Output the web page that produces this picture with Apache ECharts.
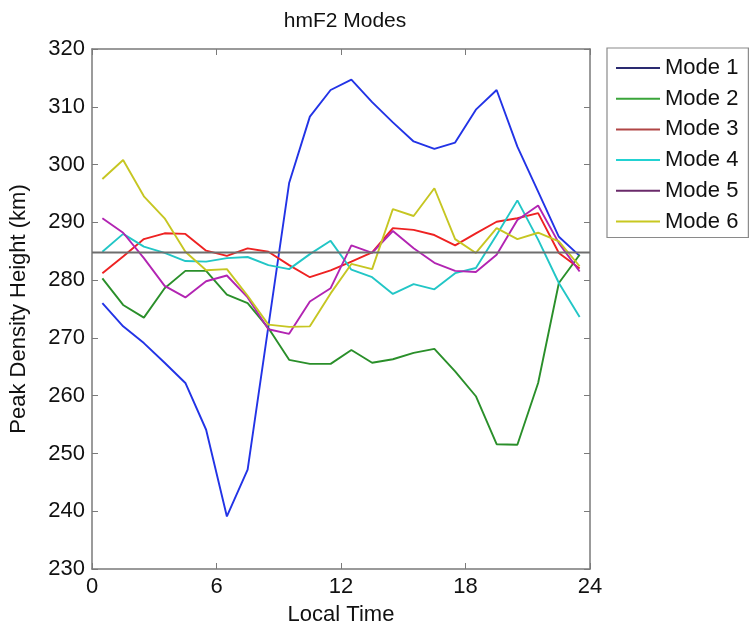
<!DOCTYPE html>
<html>
<head>
<meta charset="utf-8">
<script src="https://cdn.jsdelivr.net/npm/echarts@6/dist/echarts.min.js"></script>
<style>
html,body{margin:0;padding:0;background:#fff;}
#chart{width:750px;height:633px;}
</style>
</head>
<body>
<div id="chart"></div>
<script>
// Local time (hours) of each sample
const localTime = [0.5,1.5,2.5,3.5,4.5,5.5,6.5,7.5,8.5,9.5,10.5,11.5,12.5,13.5,14.5,15.5,16.5,17.5,18.5,19.5,20.5,21.5,22.5,23.5];
const mode1 = [276.0,272.0,269.1,265.7,262.2,254.1,239.1,247.2,272.0,296.8,308.3,312.9,314.7,310.8,307.3,304.0,302.7,303.8,309.5,312.9,303.1,295.3,287.5,284.2];
const mode2 = [280.3,275.7,273.5,278.6,281.6,281.6,277.5,276.0,271.7,266.2,265.5,265.5,267.9,265.7,266.3,267.4,268.1,264.2,259.9,251.6,251.5,262.2,279.5,284.4];
const mode3 = [281.2,284.1,287.1,288.1,288.0,285.1,284.2,285.5,284.9,282.6,280.5,281.7,283.2,284.8,289.0,288.7,287.8,286.0,288.1,290.1,290.7,291.6,284.7,282.0];
const mode4 = [284.9,288.0,285.8,284.7,283.3,283.2,283.8,284.0,282.6,281.9,284.5,286.8,281.8,280.5,277.6,279.3,278.4,281.2,282.1,287.8,293.8,287.0,279.5,273.6];
const mode5 = [290.7,288.2,283.8,279.0,277.0,279.8,280.8,277.0,271.5,270.7,276.3,278.6,286.0,284.7,288.5,285.5,283.0,281.6,281.4,284.4,290.4,292.9,286.4,281.5];
const mode6 = [297.5,300.8,294.5,290.7,284.9,281.7,281.9,277.3,272.3,271.9,272.0,277.7,282.8,281.9,292.3,291.1,295.9,287.1,284.7,289.0,287.1,288.2,286.7,282.4];
const meanLevel = 284.8;
const modeNames = ['Mode 1','Mode 2','Mode 3','Mode 4','Mode 5','Mode 6'];
const modeValues = [mode1, mode2, mode3, mode4, mode5, mode6];
const lineColors = ['#2233e6','#2a8f2a','#ee2222','#22c6c6','#b224b2','#c6c622'];
const legendColors = ['#2a2a70','#3aa53a','#b04545','#22d2d2','#6a2a6a','#c8c820'];
const xTicks = [0,6,12,18,24];
const yTicks = [230,240,250,260,270,280,290,300,310,320];

const FONT = 'Liberation Sans, Arial, sans-serif';
const axisGray = '#7a7a7a';

const series = modeNames.map((name, i) => ({
  name: name,
  type: 'line',
  data: localTime.map((t, j) => [t, modeValues[i][j]]),
  showSymbol: false,
  symbol: 'none',
  lineStyle: { color: lineColors[i], width: 1.9 },
  itemStyle: { color: lineColors[i] },
  animation: false,
  z: 2 + i
}));
series.push({
  name: 'mean',
  type: 'line',
  data: [[xTicks[0], meanLevel], [xTicks[xTicks.length - 1], meanLevel]],
  showSymbol: false,
  symbol: 'none',
  lineStyle: { color: '#6e6e6e', width: 2 },
  animation: false,
  z: 10
});

const chart = echarts.init(document.getElementById('chart'));
chart.setOption({
  animation: false,
  backgroundColor: '#fff',
  textStyle: { fontFamily: FONT },
  title: {
    text: 'hmF2 Modes',
    left: 340, top: 6, textAlign: 'center',
    textStyle: { fontFamily: FONT, fontSize: 21, fontWeight: 'normal', color: '#111' }
  },
  legend: {
    orient: 'vertical',
    left: 607, top: 48,
    data: modeNames.map((n, i) => ({ name: n, itemStyle: { color: legendColors[i] } })),
    icon: 'rect',
    itemWidth: 44, itemHeight: 2,
    itemGap: 8.7,
    padding: [9, 10, 5, 9],
    borderColor: '#8a8a8a', borderWidth: 1.2,
    textStyle: { fontFamily: FONT, fontSize: 22, color: '#111', lineHeight: 22 }
  },
  grid: { left: 90, right: 160, top: 49, bottom: 64, containLabel: false },
  xAxis: [{
    type: 'value', min: xTicks[0], max: xTicks[xTicks.length - 1], interval: 6,
    name: 'Local Time', nameLocation: 'middle', nameGap: 35,
    nameTextStyle: { fontFamily: FONT, fontSize: 22, color: '#111' },
    axisLine: { onZero: false, lineStyle: { color: axisGray, width: 1.5 } },
    axisTick: { inside: true, length: 6, lineStyle: { color: axisGray } },
    axisLabel: { fontFamily: FONT, fontSize: 22, color: '#111', margin: 7 },
    splitLine: { show: false }
  }, {
    type: 'value', position: 'top', min: xTicks[0], max: xTicks[xTicks.length - 1], interval: 6,
    axisLine: { onZero: false, lineStyle: { color: axisGray, width: 1.5 } },
    axisTick: { inside: true, length: 6, lineStyle: { color: axisGray } },
    axisLabel: { show: false },
    splitLine: { show: false }
  }],
  yAxis: [{
    type: 'value', min: yTicks[0], max: yTicks[yTicks.length - 1], interval: 10,
    name: 'Peak Density Height (km)', nameLocation: 'middle', nameGap: 62, nameRotate: 90,
    nameTextStyle: { fontFamily: FONT, fontSize: 22, color: '#111' },
    axisLine: { onZero: false, lineStyle: { color: axisGray, width: 1.5 } },
    axisTick: { inside: true, length: 6, lineStyle: { color: axisGray } },
    axisLabel: { fontFamily: FONT, fontSize: 22, color: '#111', margin: 7 },
    splitLine: { show: false }
  }, {
    type: 'value', position: 'right', min: yTicks[0], max: yTicks[yTicks.length - 1], interval: 10,
    axisLine: { onZero: false, lineStyle: { color: axisGray, width: 1.5 } },
    axisTick: { inside: true, length: 6, lineStyle: { color: axisGray } },
    axisLabel: { show: false },
    splitLine: { show: false }
  }],
  series: series
});
</script>
</body>
</html>
